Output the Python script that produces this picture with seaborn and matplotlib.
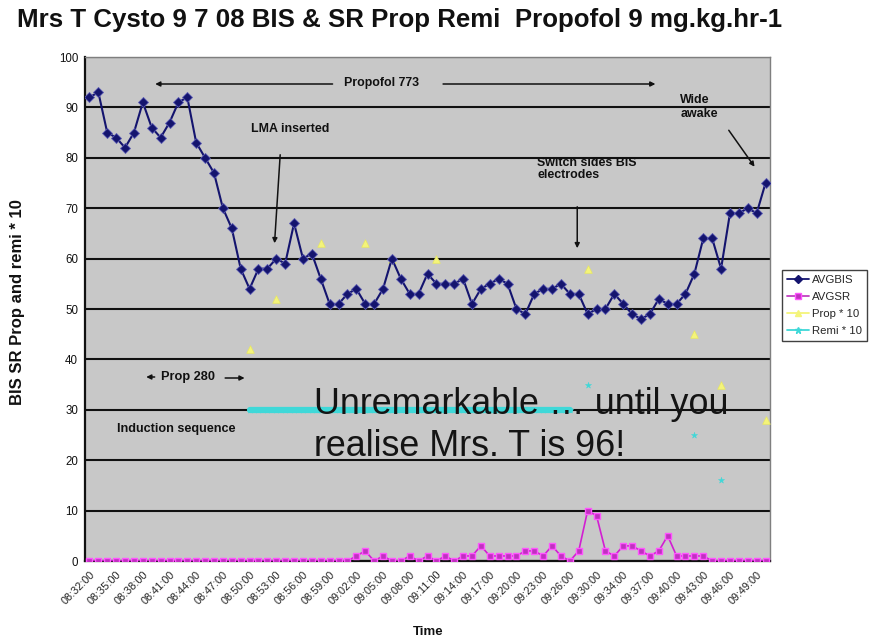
import numpy as np
import pandas as pd
import matplotlib
matplotlib.use("Agg")
import matplotlib.pyplot as plt
import seaborn as sns
from matplotlib.lines import Line2D

# ---------------- data ----------------
tick_labels = ["08:32:00", "08:35:00", "08:38:00", "08:41:00", "08:44:00", "08:47:00",
               "08:50:00", "08:53:00", "08:56:00", "08:59:00", "09:02:00", "09:05:00",
               "09:08:00", "09:11:00", "09:14:00", "09:17:00", "09:20:00", "09:23:00",
               "09:26:00", "09:30:00", "09:34:00", "09:37:00", "09:40:00", "09:43:00",
               "09:46:00", "09:49:00"]

bis = [92, 93, 85, 84, 82, 85, 91, 86, 84, 87, 91, 92, 83, 80, 77, 70, 66, 58, 54, 58,
       58, 60, 59, 67, 60, 61, 56, 51, 51, 53, 54, 51, 51, 54, 60, 56, 53, 53, 57, 55,
       55, 55, 56, 51, 54, 55, 56, 55, 50, 49, 53, 54, 54, 55, 53, 53, 49, 50, 50, 53,
       51, 49, 48, 49, 52, 51, 51, 53, 57, 64, 64, 58, 69, 69, 70, 69, 75]

sr = [0] * 30 + [1, 2, 0, 1, 0, 0, 1, 0, 1, 0, 1, 0, 1, 1, 3, 1, 1, 1, 1, 2,
                 2, 1, 3, 1, 0, 2, 10, 9, 2, 1, 3, 3, 2, 1, 2, 5, 1, 1, 1, 1] + [0] * 7

prop = ([None] * 18 + [42, None, None, 52] + [None] * 4 + [63] + [None] * 4 + [63]
        + [None] * 2 + [60] + [None] * 4 + [60] + [None] * 16 + [58] + [None] * 11
        + [45] + [None] * 2 + [35] + [None] * 4 + [28])

remi = ([None] * 18 + [30] * 37 + [None, 35] + [None] * 11 + [25, None, None, 16]
        + [None] * 5)

n = len(bis)
df = pd.DataFrame({"idx": np.arange(n), "bis": bis, "sr": sr,
                   "prop": pd.to_numeric(pd.Series(prop, dtype="object")),
                   "remi": pd.to_numeric(pd.Series(remi, dtype="object"))})

# ---------------- style ----------------
sns.set_theme(style="white")
plt.rcParams["font.family"] = ["Liberation Sans", "DejaVu Sans"]

W, H = 891, 643
fig = plt.figure(figsize=(W / 100, H / 100), dpi=100)
fig.patch.set_facecolor("white")
ax = fig.add_axes([85 / W, (H - 561) / H, 685 / W, 504 / H])
ax.set_facecolor("#C8C8C8")

BIS_C = "#14146E"
SR_C = "#D21ED2"
PROP_C = "#F4F47A"
REMI_C = "#3FD8D8"

# Remi continuous run (thick line)
rm = df["remi"].notna()
run_id = (rm != rm.shift()).cumsum()
for _, g in df[rm].groupby(run_id[rm]):
    if len(g) > 1:
        sns.lineplot(data=g, x="idx", y="remi", ax=ax, color=REMI_C, lw=4.5,
                     zorder=3, legend=False)
sns.scatterplot(data=df[rm], x="idx", y="remi", ax=ax, color=REMI_C, marker="*",
                s=22, edgecolor=REMI_C, linewidth=0.3, zorder=3, legend=False)

# Prop triangles
sns.scatterplot(data=df[df["prop"].notna()], x="idx", y="prop", ax=ax, color=PROP_C,
                marker="^", s=30, edgecolor="#E8E860", linewidth=0.5, zorder=4,
                legend=False)

# SR
sns.lineplot(data=df, x="idx", y="sr", ax=ax, color=SR_C, lw=1.2, marker="s",
             markersize=5, markerfacecolor="#C030C0", markeredgecolor="#FF55FF",
             markeredgewidth=1.0, zorder=5, legend=False)

# BIS
sns.lineplot(data=df, x="idx", y="bis", ax=ax, color=BIS_C, lw=1.5, marker="D",
             markersize=5, markerfacecolor=BIS_C, markeredgecolor="#5A5AB4",
             markeredgewidth=0.6, zorder=6, legend=False)

# ---------------- axes ----------------
ax.set_xlim(-0.5, n - 0.5)
ax.set_ylim(0, 100)
ax.set_yticks(np.arange(0, 101, 10))
ax.set_yticklabels([str(v) for v in range(0, 101, 10)], fontsize=8.3, color="#111111")
ax.yaxis.grid(True, color="#111111", lw=1.5, zorder=1)
ax.set_axisbelow(True)
ax.tick_params(axis="y", length=3, width=1, direction="out", color="#111111", pad=2)

ax.set_xticks(np.arange(0, 3 * len(tick_labels), 3))
ax.set_xticklabels(tick_labels, rotation=45, ha="right", rotation_mode="anchor",
                   fontsize=7.8, color="#222222")
ax.set_xticks(np.arange(-0.5, n, 1), minor=True)
ax.tick_params(axis="x", which="major", length=0, pad=6)
ax.tick_params(axis="x", which="minor", length=4, width=1, direction="out",
               color="#111111")
ax.set_xlabel("")
ax.set_ylabel("")

for s in ["left", "bottom"]:
    ax.spines[s].set_color("#111111")
    ax.spines[s].set_linewidth(1.6)
for s in ["top", "right"]:
    ax.spines[s].set_color("#7F7F7F")
    ax.spines[s].set_linewidth(1.0)

# ---------------- annotations ----------------
def px2d(px, py):
    return ((px - 89) / 8.9, (561 - py) / 5.04)

akw = dict(arrowstyle="-|>", color="#111111", lw=1.1, mutation_scale=7)
AF = 8.9

# Propofol 773
x, y = px2d(381, 83)
ax.text(x, y, "Propofol 773", fontsize=AF, fontweight="bold", ha="center",
        va="center", color="#111111")
ax.annotate("", xy=px2d(152, 84), xytext=px2d(335, 84), arrowprops=akw)
ax.annotate("", xy=px2d(658, 84), xytext=px2d(440, 84), arrowprops=akw)

# LMA inserted
x, y = px2d(251, 129)
ax.text(x, y, "LMA inserted", fontsize=AF, fontweight="bold", ha="left",
        va="center", color="#111111")
ax.annotate("", xy=px2d(274, 246), xytext=px2d(280, 152), arrowprops=akw)

# Switch sides BIS electrodes
x, y = px2d(537, 169)
ax.text(x, y, "Switch sides BIS\nelectrodes", fontsize=AF, fontweight="bold",
        ha="left", va="center", color="#111111", linespacing=1.1)
ax.annotate("", xy=px2d(577, 251), xytext=px2d(577, 204), arrowprops=akw)

# Wide awake
x, y = px2d(680, 107)
ax.text(x, y, "Wide\nawake", fontsize=AF, fontweight="bold", ha="left",
        va="center", color="#111111", linespacing=1.2)
ax.annotate("", xy=px2d(756, 169), xytext=px2d(727, 128), arrowprops=akw)

# Prop 280
x, y = px2d(188, 377)
ax.text(x, y, "Prop 280", fontsize=9.2, fontweight="bold", ha="center",
        va="center", color="#111111")
ax.annotate("", xy=px2d(143, 377), xytext=px2d(157, 377), arrowprops=akw)
ax.annotate("", xy=px2d(247, 378), xytext=px2d(222, 378), arrowprops=akw)

# Induction sequence
x, y = px2d(117, 429)
ax.text(x, y, "Induction sequence", fontsize=9.1, fontweight="bold", ha="left",
        va="center", color="#111111")

# Big commentary
x, y = px2d(314, 404)
ax.text(x, y, "Unremarkable … until you", fontsize=25.8, ha="left", va="center",
        color="#141414", zorder=8)
x, y = px2d(314, 447)
ax.text(x, y, "realise Mrs. T is 96!", fontsize=25.8, ha="left", va="center",
        color="#141414", zorder=8)

# ---------------- titles ----------------
fig.text(400 / W, 1 - 20 / H,
         "Mrs T Cysto 9 7 08 BIS & SR Prop Remi  Propofol 9 mg.kg.hr-1",
         fontsize=18.6, fontweight="bold", ha="center", va="center", color="#111111")
fig.text(18 / W, 1 - 302 / H, "BIS SR Prop and remi * 10", fontsize=12,
         fontweight="bold", rotation=90, ha="center", va="center", color="#111111")
fig.text(428 / W, 1 - 632 / H, "Time", fontsize=9.5, fontweight="bold",
         ha="center", va="center", color="#111111")

# ---------------- legend ----------------
handles = [
    Line2D([], [], color=BIS_C, lw=1.3, marker="D", markersize=4,
           markerfacecolor=BIS_C, markeredgecolor=BIS_C),
    Line2D([], [], color="#C040C0", lw=1.3, marker="s", markersize=5,
           markerfacecolor="#C030C0", markeredgecolor="#FF55FF"),
    Line2D([], [], color=PROP_C, lw=1.3, marker="^", markersize=5,
           markerfacecolor=PROP_C, markeredgecolor=PROP_C),
    Line2D([], [], color=REMI_C, lw=1.3, marker="*", markersize=5,
           markerfacecolor=REMI_C, markeredgecolor=REMI_C),
]
leg = fig.legend(handles, ["AVGBIS", "AVGSR", "Prop * 10", "Remi * 10"],
                 loc="upper left", bbox_to_anchor=(782 / W, 1 - 270 / H),
                 fontsize=8.2, frameon=True, fancybox=False, handlelength=1.9,
                 handletextpad=0.3, borderpad=0.45, labelspacing=0.6,
                 borderaxespad=0)
leg.get_frame().set_edgecolor("#111111")
leg.get_frame().set_linewidth(1.0)
leg.get_frame().set_facecolor("white")

fig.savefig("out.png", dpi=100, facecolor="white")
